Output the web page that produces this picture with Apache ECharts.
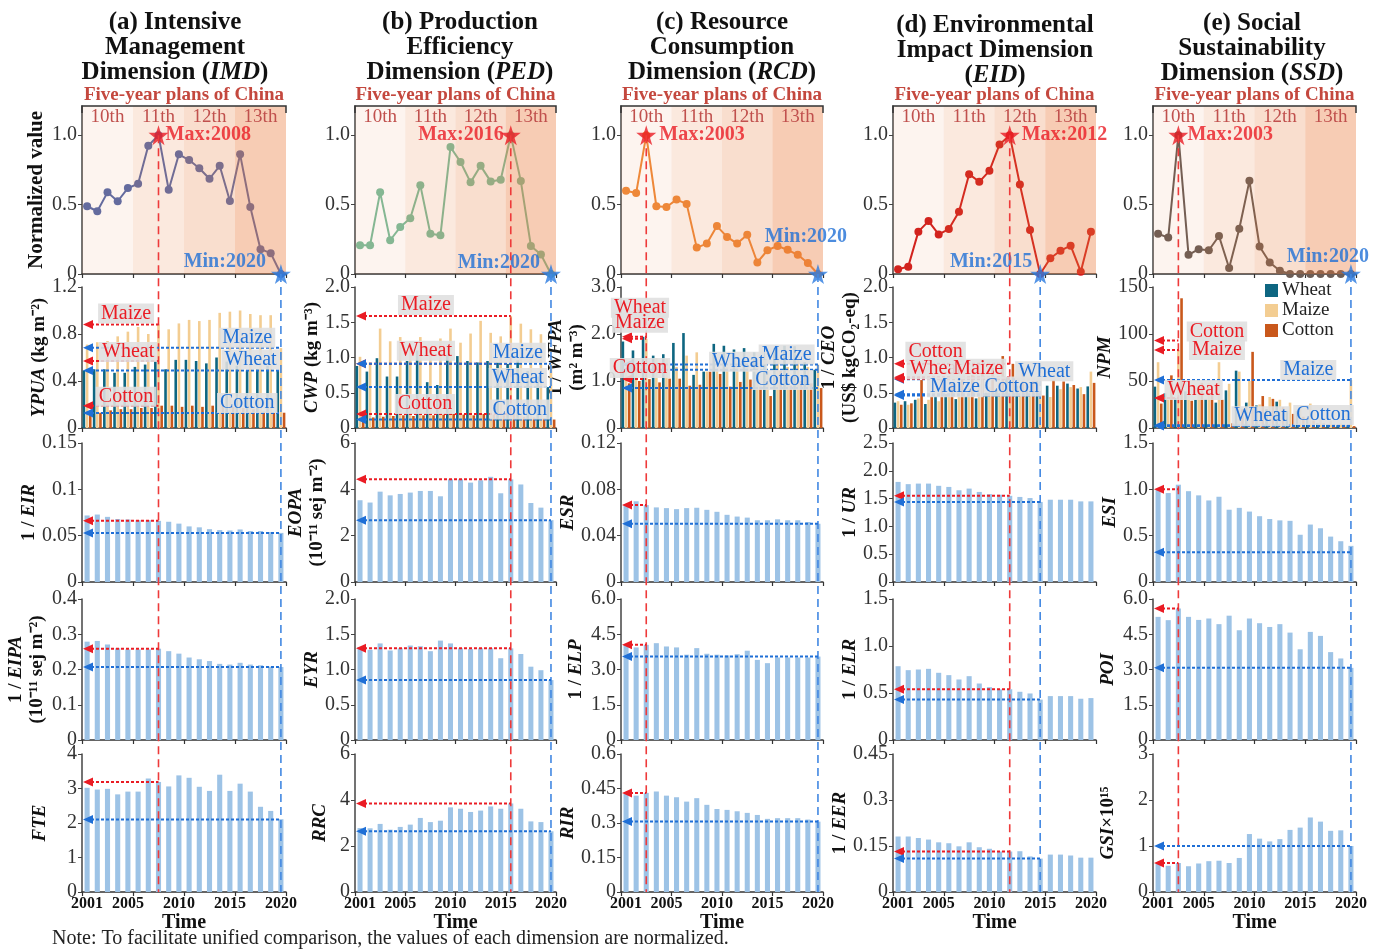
<!DOCTYPE html>
<html><head><meta charset="utf-8">
<script src="https://cdn.jsdelivr.net/npm/echarts@6/dist/echarts.min.js"></script>
<style>html,body{margin:0;padding:0;background:#fff}#c{width:1373px;height:949px}</style>
</head><body><div id="c"></div>
<script>
// ---------------- DATA ----------------
const years = ['2001','2002','2003','2004','2005','2006','2007','2008','2009','2010','2011','2012','2013','2014','2015','2016','2017','2018','2019','2020'];
const yearTicks = ['2001','2005','2010','2015','2020'];
const planNames = ['10th','11th','12th','13th'];
const planStart = ['2001','2006','2011','2016'];
const planEnd = ['2005','2010','2015','2020'];
const cropNames = ['Wheat','Maize','Cotton'];
const maxYears = ['2008','2016','2003','2012','2003'];
const minYears = ['2020','2020','2020','2015','2020'];

// Row 1: normalized dimension values
const normIMD = [0.488,0.452,0.588,0.524,0.619,0.65,0.924,1.0,0.607,0.862,0.821,0.762,0.686,0.779,0.526,0.862,0.483,0.179,0.15,0];
const normPED = [0.207,0.207,0.588,0.243,0.338,0.402,0.64,0.29,0.279,0.914,0.807,0.66,0.779,0.667,0.679,1.0,0.669,0.202,0.14,0];
const normRCD = [0.6,0.583,1.0,0.488,0.483,0.536,0.505,0.19,0.219,0.345,0.267,0.219,0.283,0.083,0.171,0.202,0.174,0.138,0.079,0];
const normEID = [0.034,0.053,0.305,0.381,0.285,0.324,0.448,0.719,0.664,0.743,0.933,1.0,0.645,0.317,0,0.113,0.168,0.204,0.017,0.305];
const normSSD = [0.29,0.262,1.0,0.138,0.179,0.171,0.274,0.043,0.326,0.671,0.198,0.083,0.024,0,0,0,0,0,0,0];

// Row 2: crop indicators (Wheat, Maize, Cotton)
const ypuaWheat = [0.49,0.50,0.50,0.47,0.47,0.52,0.54,0.57,0.50,0.58,0.58,0.57,0.55,0.60,0.565,0.53,0.49,0.50,0.53,0.49];
const ypuaMaize = [0.71,0.73,0.74,0.78,0.82,0.86,0.80,0.88,0.84,0.89,0.92,0.91,0.92,0.98,0.99,1.00,0.97,0.96,0.96,0.68];
const ypuaCotton = [0.12,0.13,0.15,0.16,0.16,0.17,0.17,0.19,0.19,0.18,0.19,0.18,0.19,0.20,0.18,0.17,0.16,0.14,0.13,0.13];
const cwpWheat = [0.88,0.80,0.99,0.73,0.73,0.95,1.10,0.65,0.61,1.04,1.02,0.95,0.93,0.95,0.93,0.91,0.96,0.81,0.73,0.58];
const cwpMaize = [1.01,0.93,1.41,1.23,1.29,1.23,1.29,1.10,1.27,1.41,1.21,1.34,1.52,1.35,1.30,1.59,1.48,1.40,1.33,0.91];
const cwpCotton = [0.14,0.15,0.16,0.17,0.18,0.17,0.18,0.18,0.19,0.20,0.19,0.18,0.20,0.19,0.18,0.20,0.16,0.15,0.14,0.12];
const wfpaWheat = [1.84,1.65,1.94,1.54,1.57,1.81,2.02,1.13,1.20,1.79,1.75,1.67,1.70,1.61,1.56,1.70,1.75,1.74,1.40,1.24];
const wfpaMaize = [1.20,1.35,1.90,1.49,1.47,1.30,1.54,1.61,1.20,1.25,1.30,1.35,1.30,1.40,1.20,1.50,1.30,1.45,1.30,1.35];
const wfpaCotton = [0.95,1.00,1.04,0.97,1.05,1.05,0.90,0.92,1.20,1.15,0.88,0.98,1.03,0.88,0.68,1.22,0.90,1.00,0.95,0.85];
const ceoWheat = [0.36,0.38,0.40,0.34,0.45,0.48,0.41,0.45,0.42,0.50,0.55,0.72,0.60,0.62,0.69,0.60,0.60,0.63,0.56,0.59];
const ceoMaize = [0.38,0.33,0.42,0.40,0.38,0.50,0.55,0.60,0.62,0.58,0.65,0.70,0.60,0.55,0.48,0.44,0.55,0.58,0.58,0.80];
const ceoCotton = [0.33,0.35,0.68,0.45,0.70,0.65,0.72,0.75,0.80,0.85,1.02,0.91,0.85,0.70,0.46,0.68,0.66,0.61,0.48,0.64];
const npmWheat = [44,37,32,39,30,31,27,40,61,27,24,20,28,18,18,9,5,4,3,3];
const npmMaize = [70,30,83,40,45,48,70,47,60,50,25,33,30,27,22,26,10,8,5,51];
const npmCotton = [26,56,138,29,48,37,30,5,20,81,34,31,22,15,12,8,5,4,3,2];

// Rows 3-5: single indicators
const eir = [0.0718,0.0728,0.0703,0.068,0.0675,0.0667,0.0667,0.066,0.065,0.063,0.060,0.059,0.057,0.056,0.0556,0.0567,0.055,0.055,0.054,0.053];
const eopa = [3.53,3.43,3.90,3.74,3.80,3.86,3.93,3.93,3.70,4.43,4.43,4.29,4.39,4.54,3.83,4.43,4.21,3.41,3.21,2.67];
const esr = [0.0673,0.0697,0.0664,0.0644,0.0638,0.0629,0.0638,0.0641,0.0623,0.0606,0.058,0.0565,0.0556,0.0533,0.0533,0.0541,0.0533,0.0533,0.0518,0.0503];
const ur = [1.80,1.76,1.77,1.77,1.73,1.71,1.65,1.68,1.62,1.58,1.57,1.55,1.53,1.51,1.44,1.48,1.48,1.48,1.45,1.45];
const esi = [1.0,0.96,1.05,0.98,0.935,0.88,0.92,0.78,0.8,0.76,0.71,0.68,0.665,0.66,0.51,0.62,0.58,0.49,0.44,0.39];
const eipa = [0.279,0.281,0.271,0.26,0.257,0.257,0.257,0.259,0.252,0.245,0.234,0.229,0.224,0.216,0.214,0.219,0.214,0.212,0.208,0.207];
const eyr = [1.32,1.28,1.37,1.27,1.30,1.34,1.33,1.26,1.41,1.37,1.30,1.29,1.30,1.30,1.16,1.30,1.22,1.04,0.99,0.85];
const elp = [4.05,3.94,4.05,4.12,3.98,3.94,3.63,3.91,3.67,3.63,3.60,3.65,3.80,3.41,3.27,3.51,3.51,3.51,3.51,3.55];
const elr = [0.785,0.743,0.75,0.757,0.715,0.69,0.644,0.679,0.601,0.562,0.538,0.54,0.513,0.495,0.43,0.467,0.467,0.467,0.439,0.446];
const poi = [5.24,5.10,5.60,5.24,5.11,5.17,4.93,5.29,4.67,5.17,4.97,4.81,4.93,4.57,3.86,4.60,4.43,3.74,3.47,3.07];
const fte = [3.02,2.97,2.99,2.83,2.91,2.91,3.29,3.19,3.06,3.38,3.31,3.05,2.93,3.40,2.93,3.14,2.91,2.47,2.35,2.11];
const rrc = [2.78,2.77,2.96,2.71,2.83,2.93,3.22,3.04,3.10,3.68,3.62,3.48,3.54,3.72,3.62,3.85,3.62,3.07,3.04,2.64];
const rir = [0.427,0.419,0.431,0.437,0.419,0.412,0.393,0.408,0.379,0.361,0.357,0.351,0.344,0.335,0.318,0.321,0.321,0.321,0.315,0.306];
const eer = [0.181,0.181,0.176,0.171,0.162,0.159,0.149,0.162,0.146,0.141,0.132,0.132,0.133,0.116,0.109,0.122,0.122,0.119,0.112,0.112];
const gsi = [0.62,0.57,0.63,0.56,0.62,0.67,0.68,0.63,0.74,1.26,1.16,1.10,1.15,1.35,1.40,1.62,1.53,1.33,1.34,1.00];

// Annotated reference values (arrows)
const row2MaxRef = [[0.571,0.88,0.19],[0.91,1.59,0.2],[1.94,1.9,1.04],[0.72,0.70,0.91],[32,83,93]];
const row2MinRef = [[0.489,0.684,0.127],[0.58,0.91,0.12],[1.24,1.35,0.85],[0.69,0.48,0.46],[3,51,2]];
const rowsMaxRef = [[0.066,4.43,0.0664,1.55,1.0],[0.259,1.3,4.05,0.54,5.6],[3.19,3.85,0.43,0.132,0.63]];
const rowsMinRef = [[0.053,2.67,0.0503,1.44,0.32],[0.207,0.85,3.55,0.43,3.07],[2.1,2.64,0.306,0.109,1.0]];

// Axis ranges / tick spacing
const yMax = [[1.21,1.21,1.21,1.21,1.21],[1.2,2.0,3.0,2.0,150],[0.15,6,0.12,2.5,1.5],[0.4,2.0,6.0,1.5,6.0],[4,6,0.6,0.45,3]];
const yInt = [[0.5,0.5,0.5,0.5,0.5],[0.4,0.5,1.0,0.5,50],[0.05,2,0.04,0.5,0.5],[0.1,0.5,1.5,0.5,1.5],[1,2,0.15,0.15,1]];
const yFix = [[1,1,1,1,1],[1,1,1,1,0],[0,0,0,1,1],[0,1,1,1,1],[0,0,0,0,0]];

// ---------------- LAYOUT / STYLE ----------------
const FONT = '"Liberation Serif","Times New Roman",serif';
const colLeft = [82, 355, 621, 893, 1153];
const colRight = [286, 556, 823, 1096, 1356];
const rowTop = [106, 287, 443, 599, 754];
const rowBottom = [274, 428, 582, 740, 892];
const lineColors = ['#5a6ba8','#7dbd9c','#ef8a3a','#d11d1d','#6b5d56'];
const cropColors = ['#0e6681','#f3cd92','#c9581b'];
const barBlue = '#9dc3e6';
const bandAlpha = [0.08, 0.16, 0.245, 0.37];
const RED = '#ea1c24', BLUE = '#1f6fd6';
const STAR = 'path://M50,0 L61,35 L98,35 L68,57 L79,91 L50,70 L21,91 L32,57 L2,35 L39,35 Z';

const titles = [
  '{b|(a) Intensive}\n{b|Management}\n{b|Dimension (}{i|IMD}{b|)}',
  '{b|(b) Production}\n{b|Efficiency}\n{b|Dimension (}{i|PED}{b|)}',
  '{b|(c) Resource}\n{b|Consumption}\n{b|Dimension (}{i|RCD}{b|)}',
  '{b|(d) Environmental}\n{b|Impact Dimension}\n{b|(}{i|EID}{b|)}',
  '{b|(e) Social}\n{b|Sustainability}\n{b|Dimension (}{i|SSD}{b|)}'
];
const titleX = [175, 460, 722, 995, 1252];
const titleTop = [10, 10, 10, 13, 11];

const axisNames = [
  ['{n|Normalized value}', '', '', '', ''],
  ['{i|YPUA} {b|(kg m⁻²)}', '{i|CWP} {b|(kg m⁻³)}', '{b|1 / }{i|WFPA}\n{b|(m² m⁻³)}', '{b|1 / }{i|CEO}\n{b|(US$ kgCO₂-eq)}', '{i|NPM}'],
  ['{b|1 / }{i|EIR}', '{i|EOPA}\n{b|(10⁻¹¹ sej m⁻²)}', '{i|ESR}', '{b|1 / }{i|UR}', '{i|ESI}'],
  ['{b|1 / }{i|EIPA}\n{b|(10⁻¹¹ sej m⁻²)}', '{i|EYR}', '{b|1 / }{i|ELP}', '{b|1 / }{i|ELR}', '{i|POI}'],
  ['{i|FTE}', '{i|RRC}', '{i|RIR}', '{b|1 / }{i|EER}', '{i|GSI}{b|×10¹⁵}']
];
const nameGaps = [[34,0,0,0,0],[31,28,33,29,35],[35,27,36,31,31],[34,24,34,31,34],[31,24,34,36,34]];

const maxLabelCfg = [
  {position:'right', distance:-3, offset:[0,0]},
  {position:'left', distance:-3, offset:[0,0]},
  {position:'right', distance:3, offset:[0,0]},
  {position:'right', distance:2, offset:[0,0]},
  {position:'right', distance:-1, offset:[0,0]}
];
const minLabelCfg = [
  {position:'left', distance:5, offset:[0,-12]},
  {position:'left', distance:1, offset:[0,-11]},
  {position:'top', distance:5, offset:[-12,-12]},
  {position:'left', distance:-2, offset:[0,-12]},
  {position:'top', distance:-3, offset:[-23,0]}
];
// Row 2 label boxes: [which, cropIndex, xFraction, dyAbove]
const boxLayout = [
  [['max',1,0.216,-11],['max',0,0.226,-9],['max',2,0.216,-9],['min',1,0.81,-10],['min',0,0.826,-11],['min',2,0.81,-10]],
  [['max',1,0.353,-11],['max',0,0.353,-13],['max',2,0.348,-10],['min',1,0.81,-11],['min',0,0.81,-9],['min',2,0.82,-10]],
  [['max',0,0.094,-29],['max',1,0.094,-16],['max',2,0.094,-11],['min',1,0.82,-10],['min',0,0.58,-8],['min',2,0.80,-8]],
  [['max',2,0.21,-12],['max',0,0.21,-8],['max',1,0.42,-10],['min',0,0.745,-8],['min',1,0.305,-7],['min',2,0.585,-9]],
  [['max',2,0.315,-9],['max',1,0.315,0],['max',0,0.2,-8],['min',1,0.765,-10],['min',0,0.53,-9],['min',2,0.84,-11]]
];

const normData = [normIMD, normPED, normRCD, normEID, normSSD];
const row2Data = [[ypuaWheat,ypuaMaize,ypuaCotton],[cwpWheat,cwpMaize,cwpCotton],[wfpaWheat,wfpaMaize,wfpaCotton],[ceoWheat,ceoMaize,ceoCotton],[npmWheat,npmMaize,npmCotton]];
const singleData = [[eir,eopa,esr,ur,esi],[eipa,eyr,elp,elr,poi],[fte,rrc,rir,eer,gsi]];

// ---------------- OPTION ----------------
const nameRich = {
  b: {fontFamily: FONT, fontWeight: 'bold', fontSize: 19, color: '#111', lineHeight: 21},
  i: {fontFamily: FONT, fontWeight: 'bold', fontStyle: 'italic', fontSize: 19, color: '#111', lineHeight: 21},
  n: {fontFamily: FONT, fontWeight: 'bold', fontSize: 21, color: '#111', lineHeight: 23}
};

const option = {
  animation: false,
  backgroundColor: '#ffffff',
  textStyle: {fontFamily: FONT},
  legend: {
    data: cropNames, orient: 'vertical', left: 1265, top: 281, padding: 0,
    itemWidth: 13, itemHeight: 13, itemGap: 1, icon: 'rect',
    textStyle: {fontFamily: FONT, fontSize: 19, color: '#222', padding: [0,0,0,-1]}
  },
  grid: [], xAxis: [], yAxis: [], series: []
};

for (let r = 0; r < 5; r++) {
  for (let c = 0; c < 5; c++) {
    const gi = r * 5 + c;
    option.grid.push({left: colLeft[c], top: rowTop[r], width: colRight[c] - colLeft[c], height: rowBottom[r] - rowTop[r]});
    option.xAxis.push({
      type: 'category', gridIndex: gi, data: years, boundaryGap: true,
      axisLine: {show: true, lineStyle: {color: '#333', width: 1.5}},
      axisTick: {show: true, interval: 4, length: 4, lineStyle: {color: '#333', width: 1.2}},
      axisLabel: r === 4 ? {show: true, interval: (i, v) => yearTicks.indexOf(v) >= 0, fontFamily: FONT, fontSize: 16, fontWeight: 'bold', color: '#111', margin: 4} : {show: false},
      name: r === 4 ? 'Time' : '', nameLocation: 'middle', nameGap: 16,
      nameTextStyle: {fontFamily: FONT, fontSize: 20, fontWeight: 'bold', color: '#111'}
    });
    const fix = yFix[r][c];
    const lab = {fontFamily: FONT, fontSize: 20, color: '#333', margin: 5,
      formatter: v => v === 0 ? '0' : (fix ? v.toFixed(1) : String(+v.toFixed(6)))};
    if (r === 0) lab.showMaxLabel = false;
    option.yAxis.push({
      type: 'value', gridIndex: gi, min: 0, max: yMax[r][c], interval: yInt[r][c],
      axisLine: {show: true, lineStyle: {color: '#444', width: 1.5}},
      axisTick: {show: true, length: 4, lineStyle: {color: '#444'}},
      splitLine: {show: false},
      axisLabel: lab,
      name: axisNames[r][c], nameLocation: 'middle', nameGap: nameGaps[r][c],
      nameTextStyle: {fontFamily: FONT, fontSize: 19, fontWeight: 'bold', color: '#111', rich: nameRich}
    });

    if (r === 0) {
      const d = normData[c];
      option.series.push({
        type: 'line', xAxisIndex: gi, yAxisIndex: gi, data: d, z: 2,
        showSymbol: true, showAllSymbol: true,
        symbol: 'circle', symbolSize: 8, color: lineColors[c],
        lineStyle: {width: 2, color: lineColors[c]}, itemStyle: {color: lineColors[c]}
      });
      const bandData = planNames.map((p, k) => [years.indexOf(planStart[k]), years.indexOf(planEnd[k]), k]);
      option.series.push({
        type: 'custom', xAxisIndex: gi, yAxisIndex: gi, z: 3, silent: true,
        encode: {x: [0, 1], y: 2},
        data: bandData,
        renderItem: (params, api) => {
          const cs = params.coordSys;
          const s = api.value(0), e = api.value(1), k = api.value(2);
          const bw = api.size([1, 0])[0];
          const x0 = api.coord([s, 0])[0] - bw / 2;
          const x1 = api.coord([e, 0])[0] + bw / 2;
          return {type: 'group', children: [
            {type: 'rect', shape: {x: x0, y: cs.y, width: x1 - x0, height: cs.height},
              style: {fill: 'rgba(232,118,52,' + bandAlpha[k] + ')'}},
            {type: 'text', style: {text: planNames[k], x: (x0 + x1) / 2, y: cs.y + 11, align: 'center', verticalAlign: 'middle',
              font: '19px ' + FONT, fill: '#c0504d'}}
          ]};
        }
      });
      const mi = years.indexOf(maxYears[c]), ni = years.indexOf(minYears[c]);
      option.series.push({
        type: 'scatter', xAxisIndex: gi, yAxisIndex: gi, z: 6, clip: false,
        symbol: STAR, symbolSize: 20,
        data: [
          {value: [mi, d[mi]], itemStyle: {color: RED},
            label: Object.assign({show: true, formatter: 'Max:' + maxYears[c], color: RED, fontFamily: FONT, fontWeight: 'bold', fontSize: 20}, maxLabelCfg[c])},
          {value: [ni, d[ni]], itemStyle: {color: '#2a7be0'},
            label: Object.assign({show: true, formatter: 'Min:' + minYears[c], color: BLUE, fontFamily: FONT, fontWeight: 'bold', fontSize: 20}, minLabelCfg[c])}
        ]
      });
    } else if (r === 1) {
      for (let k = 0; k < 3; k++) {
        option.series.push({
          type: 'bar', name: cropNames[k], xAxisIndex: gi, yAxisIndex: gi, data: row2Data[c][k],
          barWidth: 2.6, barGap: '22%', itemStyle: {color: cropColors[k]}, color: cropColors[k]
        });
      }
    } else {
      option.series.push({
        type: 'bar', xAxisIndex: gi, yAxisIndex: gi, data: singleData[r - 2][c],
        barWidth: '50%', itemStyle: {color: barBlue}
      });
    }
  }
}

const chart = echarts.init(document.getElementById('c'), null, {renderer: 'canvas'});
chart.setOption(option);

// ---------------- ANNOTATIONS (positions from the library's scales) ----------------
const P = (gi, x, y) => chart.convertToPixel({gridIndex: gi}, [x, y]);
const g = [];
const Z = 100;

for (let c = 0; c < 5; c++) {
  const cx = (colLeft[c] + colRight[c]) / 2;
  g.push({type: 'text', z: Z, x: titleX[c], y: titleTop[c], style: {
    text: titles[c], align: 'center', verticalAlign: 'top',
    rich: {
      b: {fontFamily: FONT, fontSize: 25, fontWeight: 'bold', fill: '#111', lineHeight: 25},
      i: {fontFamily: FONT, fontSize: 25, fontWeight: 'bold', fontStyle: 'italic', fill: '#111', lineHeight: 25}
    }}});
  g.push({type: 'text', z: Z, x: cx, y: 95, style: {text: 'Five-year plans of China', align: 'center', verticalAlign: 'middle',
    font: 'bold 19px ' + FONT, fill: '#c4483e'}});
  const top = rowTop[0];
  g.push({type: 'polyline', z: Z, shape: {points: [[colLeft[c], top + 7], [colLeft[c], top], [colRight[c], top], [colRight[c], top + 7]]},
    style: {stroke: '#333', lineWidth: 1.5, fill: null}});

  const mi = years.indexOf(maxYears[c]), ni = years.indexOf(minYears[c]);
  const starMax = P(c, mi, normData[c][mi]);
  const starMin = P(c, ni, normData[c][ni]);
  const bottomY = P(20 + c, 0, 0)[1];
  g.push({type: 'line', z: Z - 5, shape: {x1: starMax[0], y1: starMax[1], x2: starMax[0], y2: bottomY},
    style: {stroke: '#ee3a3a', lineWidth: 1.6, lineDash: [8, 5]}});
  g.push({type: 'line', z: Z - 5, shape: {x1: starMin[0], y1: starMin[1], x2: starMin[0], y2: bottomY},
    style: {stroke: '#4288e2', lineWidth: 1.6, lineDash: [8, 5]}});

  const arrow = (gi, idx, val, color) => {
    const p = P(gi, idx, val);
    const ax = colLeft[c];
    g.push({type: 'line', z: Z, shape: {x1: ax + 9, y1: p[1], x2: p[0], y2: p[1]}, style: {stroke: color, lineWidth: 2, lineDash: [3, 2]}});
    g.push({type: 'polygon', z: Z, shape: {points: [[ax + 1, p[1]], [ax + 11, p[1] - 4.5], [ax + 11, p[1] + 4.5]]}, style: {fill: color}});
    return p;
  };
  // Row 2 arrows and labels
  const gi2 = 5 + c;
  for (let k = 0; k < 3; k++) {
    arrow(gi2, mi, row2MaxRef[c][k], RED);
    arrow(gi2, ni, row2MinRef[c][k], BLUE);
  }
  boxLayout[c].forEach(([which, k, fx, dy]) => {
    const val = which === 'max' ? row2MaxRef[c][k] : row2MinRef[c][k];
    const y = P(gi2, 0, val)[1] + dy;
    const x = colLeft[c] + fx * (colRight[c] - colLeft[c]);
    g.push({type: 'text', z: Z + 1, x: x, y: y, style: {text: cropNames[k], align: 'center', verticalAlign: 'middle',
      font: '20px ' + FONT, fill: which === 'max' ? RED : BLUE, backgroundColor: 'rgba(224,224,224,0.9)', padding: [0, 3, 0, 3]}});
  });
  // Rows 3-5 arrows
  for (let r = 2; r < 5; r++) {
    const gi = r * 5 + c;
    arrow(gi, mi, rowsMaxRef[r - 2][c], RED);
    arrow(gi, ni, rowsMinRef[r - 2][c], BLUE);
  }
}
g.push({type: 'text', z: Z, x: 52, y: 939, style: {text: 'Note: To facilitate unified comparison, the values of each dimension are normalized.',
  align: 'left', verticalAlign: 'middle', font: '20px ' + FONT, fill: '#222'}});

chart.setOption({graphic: {elements: g}});
</script>
</body></html>
